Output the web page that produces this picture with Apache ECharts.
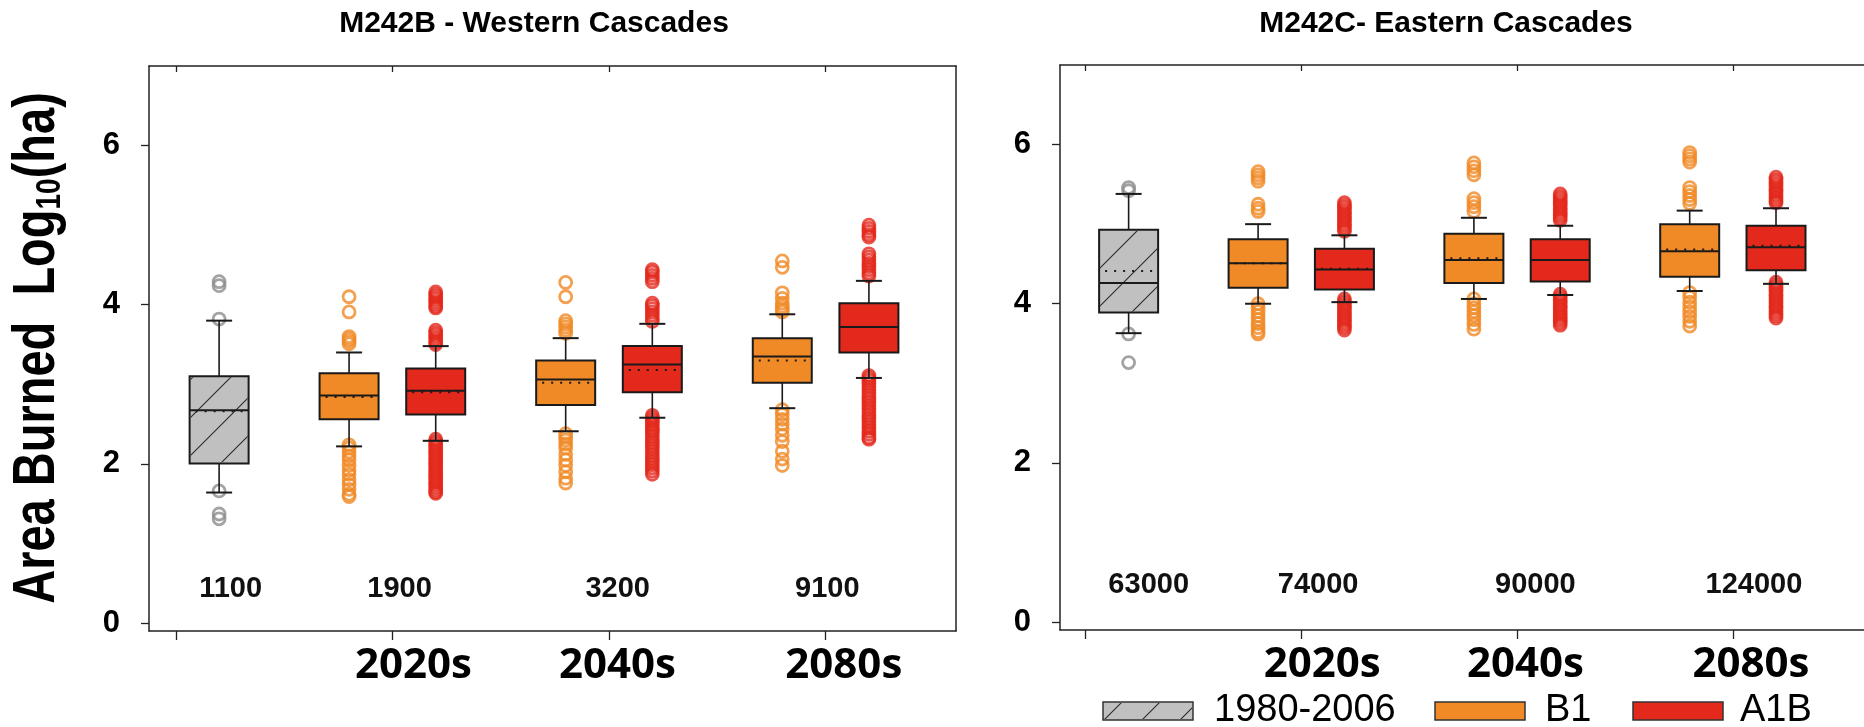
<!DOCTYPE html>
<html><head><meta charset="utf-8">
<script src="https://cdn.jsdelivr.net/npm/echarts@6/dist/echarts.min.js"></script>
<style>html,body{margin:0;padding:0;background:#fff}#chart{width:1864px;height:727px}</style>
</head><body><div id="chart"></div>
<script>
// ===== DATA =====
const panelTitles = ['M242B - Western Cascades', 'M242C- Eastern Cascades'];
const periods = ['2020s', '2040s', '2080s'];
const scenarios = ['1980-2006', 'B1', 'A1B'];
const yTicks = [0, 2, 4, 6];
const westCounts = ['1100', '1900', '3200', '9100'];
const eastCounts = ['63000', '74000', '90000', '124000'];

// box stats per box: [lower whisker, Q1, median, Q3, upper whisker, mean]
const westBase = [[1.64, 2.005, 2.675, 3.10, 3.80, 2.66]];
const westB1 = [
  [2.22, 2.56, 2.86, 3.14, 3.40, 2.84],
  [2.41, 2.74, 3.06, 3.30, 3.58, 3.02],
  [2.70, 3.02, 3.35, 3.58, 3.88, 3.30]
];
const westA1B = [
  [2.29, 2.62, 2.92, 3.20, 3.48, 2.90],
  [2.58, 2.90, 3.25, 3.48, 3.76, 3.18],
  [3.08, 3.40, 3.72, 4.02, 4.30, 3.72]
];
const eastBase = [[3.63, 3.89, 4.26, 4.93, 5.38, 4.41]];
const eastB1 = [
  [4.00, 4.20, 4.51, 4.81, 5.00, 4.51],
  [4.06, 4.26, 4.55, 4.88, 5.08, 4.57],
  [4.16, 4.34, 4.66, 5.00, 5.17, 4.68]
];
const eastA1B = [
  [4.02, 4.18, 4.43, 4.69, 4.86, 4.44],
  [4.11, 4.28, 4.55, 4.81, 4.98, 4.55],
  [4.25, 4.42, 4.71, 4.98, 5.20, 4.73]
];

// outliers per box
const westBaseOut = [[4.29, 4.24, 3.82, 1.66, 1.37, 1.31]];
const westB1Out = [
  [4.10, 3.91, 3.60, 3.57, 3.54, 3.51, 2.24, 2.20, 2.15, 2.10, 2.05, 1.98, 1.92, 1.87, 1.80, 1.74, 1.68, 1.62, 1.59],
  [4.28, 4.10, 3.80, 3.76, 3.72, 3.68, 3.64, 2.38, 2.34, 2.30, 2.25, 2.20, 2.12, 2.05, 1.98, 1.90, 1.82, 1.76],
  [4.55, 4.47, 4.15, 4.08, 4.02, 3.98, 3.94, 3.91, 2.68, 2.62, 2.56, 2.50, 2.44, 2.36, 2.28, 2.16, 2.06, 1.98]
];
const westA1BOut = [
  [4.16, 4.13, 4.10, 4.07, 4.04, 4.01, 3.98, 3.96, 3.68, 3.65, 3.62, 3.59, 3.56, 3.53, 3.50,
   2.31, 2.28, 2.25, 2.22, 2.19, 2.16, 2.13, 2.10, 2.07, 2.04, 2.01, 1.98, 1.95, 1.92, 1.89, 1.86, 1.83, 1.80, 1.77, 1.74, 1.71, 1.68, 1.65, 1.63],
  [4.44, 4.41, 4.37, 4.33, 4.29, 4.02, 3.99, 3.95, 3.91, 3.87, 3.83, 3.79,
   2.61, 2.58, 2.55, 2.52, 2.49, 2.45, 2.42, 2.39, 2.35, 2.31, 2.27, 2.23, 2.19, 2.15, 2.11, 2.07, 2.03, 1.99, 1.95, 1.91, 1.87],
  [5.00, 4.96, 4.92, 4.88, 4.85, 4.64, 4.60, 4.56, 4.52, 4.48, 4.44, 4.40, 4.36,
   3.11, 3.08, 3.05, 3.01, 2.97, 2.93, 2.89, 2.85, 2.81, 2.77, 2.73, 2.69, 2.65, 2.61, 2.57, 2.53, 2.49, 2.45, 2.41, 2.37, 2.33, 2.31]
];
const eastBaseOut = [[5.46, 5.42, 3.62, 3.26]];
const eastB1Out = [
  [5.66, 5.62, 5.58, 5.54, 5.25, 5.20, 5.16, 4.00, 3.95, 3.90, 3.85, 3.80, 3.75, 3.70, 3.65, 3.62],
  [5.77, 5.72, 5.67, 5.62, 5.32, 5.27, 5.22, 5.16, 4.06, 4.00, 3.95, 3.90, 3.85, 3.80, 3.74, 3.68],
  [5.90, 5.86, 5.82, 5.78, 5.46, 5.41, 5.36, 5.31, 5.26, 4.14, 4.08, 4.02, 3.96, 3.90, 3.84, 3.78, 3.72]
];
const eastA1BOut = [
  [5.27, 5.24, 5.21, 5.18, 5.15, 5.12, 5.09, 5.06, 5.03, 5.00, 4.97, 4.94, 4.91,
   4.06, 4.03, 4.00, 3.97, 3.94, 3.91, 3.88, 3.85, 3.82, 3.79, 3.76, 3.73, 3.70, 3.67],
  [5.38, 5.35, 5.32, 5.29, 5.26, 5.23, 5.20, 5.17, 5.14, 5.11, 5.08, 5.05,
   4.12, 4.09, 4.06, 4.03, 4.00, 3.97, 3.94, 3.91, 3.88, 3.85, 3.82, 3.79, 3.76, 3.73],
  [5.59, 5.56, 5.53, 5.50, 5.47, 5.44, 5.41, 5.38, 5.35, 5.32, 5.29, 5.27,
   4.27, 4.24, 4.21, 4.18, 4.15, 4.12, 4.09, 4.06, 4.03, 4.00, 3.97, 3.94, 3.91, 3.88, 3.85, 3.82]
];

// ===== LAYOUT (axis units: period ticks at 0,1,2,3) =====
const basePos = [0.2];
const b1Pos = [0.8, 1.8, 2.8];
const a1bPos = [1.2, 2.2, 3.2];
const xTicks = [0, 1, 2, 3];
const periodPos = [1.097, 2.039, 3.084];
const westCountPos = [0.253, 1.033, 2.04, 3.008];
const eastCountPos = [0.293, 1.078, 2.085, 3.098];
const countLevel = [0.43, 0.47];

const COL = {base: '#c0c0c0', B1: '#f08a26', A1B: '#e3281c', baseOut: '#8c8c8c'};
const FONT = "'Liberation Sans', Arial, sans-serif";

// hatch pattern
const hatch = document.createElement('canvas');
hatch.width = 38; hatch.height = 38;
(function () {
  const c = hatch.getContext('2d');
  c.strokeStyle = '#2a2a2a'; c.lineWidth = 1.1;
  c.beginPath();
  c.moveTo(0, 38); c.lineTo(38, 0);
  c.moveTo(-4, 4); c.lineTo(4, -4);
  c.moveTo(34, 42); c.lineTo(42, 34);
  c.stroke();
})();
const hatchFill = {image: hatch, repeat: 'repeat'};

function boxData(pos, stats) {
  return stats.map((s, i) => [pos[i]].concat(s));
}
function outData(pos, outs) {
  const r = [];
  outs.forEach((arr, i) => arr.forEach(v => r.push([pos[i], v])));
  return r;
}
function boxRender(fill, hatched) {
  return function (params, api) {
    const x = api.value(0);
    const yy = v => api.coord([x, v])[1];
    const cx = api.coord([x, api.value(3)])[0];
    const yLo = yy(api.value(1)), yQ1 = yy(api.value(2)), yMed = yy(api.value(3)),
          yQ3 = yy(api.value(4)), yHi = yy(api.value(5)), yMean = yy(api.value(6));
    const hw = 29.5, ch = 13;
    const ln = (x1, y1, x2, y2, w, dash) => ({type: 'line', shape: {x1, y1, x2, y2},
      style: {stroke: '#1a1a1a', lineWidth: w, lineDash: dash || null, fill: null}});
    const kids = [
      ln(cx, yQ3, cx, yHi, 1.6), ln(cx, yQ1, cx, yLo, 1.6),
      ln(cx - ch, yHi, cx + ch, yHi, 2), ln(cx - ch, yLo, cx + ch, yLo, 2),
      {type: 'rect', shape: {x: cx - hw, y: yQ3, width: 2 * hw, height: yQ1 - yQ3},
       style: {fill: fill, stroke: '#1a1a1a', lineWidth: 2}}
    ];
    if (hatched) kids.push({type: 'rect', shape: {x: cx - hw + 1, y: yQ3 + 1, width: 2 * hw - 2, height: yQ1 - yQ3 - 2},
       style: {fill: hatchFill, stroke: null}});
    kids.push(ln(cx - hw, yMed, cx + hw, yMed, 2));
    kids.push(ln(cx - hw + 6, yMean, cx + hw - 3, yMean, 2, [2, 7]));
    return {type: 'group', children: kids};
  };
}
function countRender(labels) {
  return function (params, api) {
    const c = api.coord([api.value(0), api.value(1)]);
    return {type: 'text', x: c[0], y: c[1],
      style: {text: labels[params.dataIndex], fontFamily: FONT, fontWeight: 'bold', fontSize: 29, fill: '#111',
              align: 'center', verticalAlign: 'middle'}};
  };
}

const grids = [
  {left: 149, top: 66, width: 807, height: 565},
  {left: 1060, top: 65, width: 807, height: 565}
];
const xMin = [-0.1237, -0.118];
const yMin = -0.1, yMax = 7;

const xAxes = [], yAxes = [];
[0, 1].forEach(g => {
  const xr = {min: xMin[g], max: xMin[g] + 807 / 216.6};
  xAxes.push(Object.assign({type: 'value', gridIndex: g, position: 'bottom', splitLine: {show: false},
    axisLine: {onZero: false, lineStyle: {color: '#222', width: 1.5}},
    axisTick: {customValues: xTicks, length: 9, lineStyle: {color: '#222', width: 1.3}},
    axisLabel: {customValues: periodPos, margin: 14,
      formatter: v => { const i = periodPos.findIndex(p => Math.abs(p - v) < 1e-6); return i >= 0 ? periods[i] : ''; },
      fontFamily: "'Open Sans', sans-serif", fontWeight: 'bold', fontSize: 42, color: '#000'}}, xr));
  xAxes.push(Object.assign({type: 'value', gridIndex: g, position: 'top', splitLine: {show: false},
    axisLine: {onZero: false, lineStyle: {color: '#222', width: 1.5}},
    axisTick: {customValues: xTicks, inside: true, length: 6, lineStyle: {color: '#222', width: 1.3}},
    axisLabel: {show: false}}, xr));
  yAxes.push({type: 'value', gridIndex: g, position: 'left', min: yMin, max: yMax, splitLine: {show: false},
    axisLine: {onZero: false, lineStyle: {color: '#222', width: 1.5}},
    axisTick: {customValues: yTicks, length: 8, lineStyle: {color: '#222', width: 1.3}},
    axisLabel: {customValues: yTicks, margin: 29, fontFamily: FONT, fontWeight: 'bold', fontSize: 31, color: '#000'}});
  yAxes.push({type: 'value', gridIndex: g, position: 'right', min: yMin, max: yMax, splitLine: {show: false},
    axisLine: {show: g === 0, onZero: false, lineStyle: {color: '#222', width: 1.5}},
    axisTick: {show: false}, axisLabel: {show: false}});
});

const series = [];
const panels = [
  {g: 0, base: westBase, b1: westB1, a1b: westA1B, baseOut: westBaseOut, b1Out: westB1Out, a1bOut: westA1BOut, counts: westCounts, countPos: westCountPos},
  {g: 1, base: eastBase, b1: eastB1, a1b: eastA1B, baseOut: eastBaseOut, b1Out: eastB1Out, a1bOut: eastA1BOut, counts: eastCounts, countPos: eastCountPos}
];
panels.forEach(p => {
  const ax = {xAxisIndex: p.g * 2, yAxisIndex: p.g * 2};
  const sc = (name, data, color) => Object.assign({type: 'scatter', name, data, symbol: 'circle', symbolSize: 12, z: 2, silent: true,
    itemStyle: {color: 'rgba(255,255,255,0)', borderColor: color, borderWidth: 2.8}}, ax);
  series.push(sc(scenarios[0], outData(basePos, p.baseOut), COL.baseOut));
  series.push(sc(scenarios[1], outData(b1Pos, p.b1Out), COL.B1));
  series.push(sc(scenarios[2], outData(a1bPos, p.a1bOut), COL.A1B));
  const bx = (name, data, color, h) => Object.assign({type: 'custom', name, data, z: 3, silent: true, clip: false,
    encode: {x: 0, y: [1, 2, 3, 4, 5, 6]}, renderItem: boxRender(color, h)}, ax);
  series.push(bx(scenarios[0], boxData(basePos, p.base), COL.base, true));
  series.push(bx(scenarios[1], boxData(b1Pos, p.b1), COL.B1, false));
  series.push(bx(scenarios[2], boxData(a1bPos, p.a1b), COL.A1B, false));
  series.push(Object.assign({type: 'custom', name: 'counts', silent: true, z: 4,
    data: p.countPos.map(x => [x, countLevel[p.g]]), encode: {x: 0, y: 1},
    renderItem: countRender(p.counts)}, ax));
});

const graphic = [
  {type: 'text', x: 534, y: 24, style: {text: panelTitles[0], fontFamily: FONT, fontWeight: 'bold', fontSize: 30, fill: '#000', align: 'center', verticalAlign: 'middle'}},
  {type: 'text', x: 1446, y: 24, style: {text: panelTitles[1], fontFamily: FONT, fontWeight: 'bold', fontSize: 30, fill: '#000', align: 'center', verticalAlign: 'middle'}},
  {type: 'text', x: 38, y: 348, rotation: Math.PI / 2, scaleY: 1.25, style: {
    text: '{a|Area Burned  Log}{s|10}{a|(ha)}', align: 'center', verticalAlign: 'middle',
    rich: {
      a: {fontFamily: FONT, fontWeight: 'bold', fontSize: 47, fill: '#000'},
      s: {fontFamily: FONT, fontWeight: 'bold', fontSize: 28, fill: '#000', verticalAlign: 'bottom'}
    }}},
  // legend
  {type: 'rect', shape: {x: 1103, y: 702, width: 90, height: 18}, style: {fill: COL.base, stroke: '#333', lineWidth: 1.5}},
  {type: 'rect', shape: {x: 1104, y: 703, width: 88, height: 16}, style: {fill: hatchFill}},
  {type: 'text', x: 1214, y: 711, style: {text: scenarios[0], fontFamily: FONT, fontSize: 38, fill: '#000', verticalAlign: 'middle'}},
  {type: 'rect', shape: {x: 1435, y: 702, width: 90, height: 18}, style: {fill: COL.B1, stroke: '#333', lineWidth: 1.5}},
  {type: 'text', x: 1545, y: 711, style: {text: scenarios[1], fontFamily: FONT, fontSize: 38, fill: '#000', verticalAlign: 'middle'}},
  {type: 'rect', shape: {x: 1633, y: 702, width: 90, height: 18}, style: {fill: COL.A1B, stroke: '#333', lineWidth: 1.5}},
  {type: 'text', x: 1740, y: 711, style: {text: scenarios[2], fontFamily: FONT, fontSize: 38, fill: '#000', verticalAlign: 'middle'}}
];

const chart = echarts.init(document.getElementById('chart'), null, {renderer: 'canvas'});
chart.setOption({
  animation: false,
  backgroundColor: '#fff',
  grid: grids,
  xAxis: xAxes,
  yAxis: yAxes,
  series: series,
  graphic: graphic
});
</script></body></html>
